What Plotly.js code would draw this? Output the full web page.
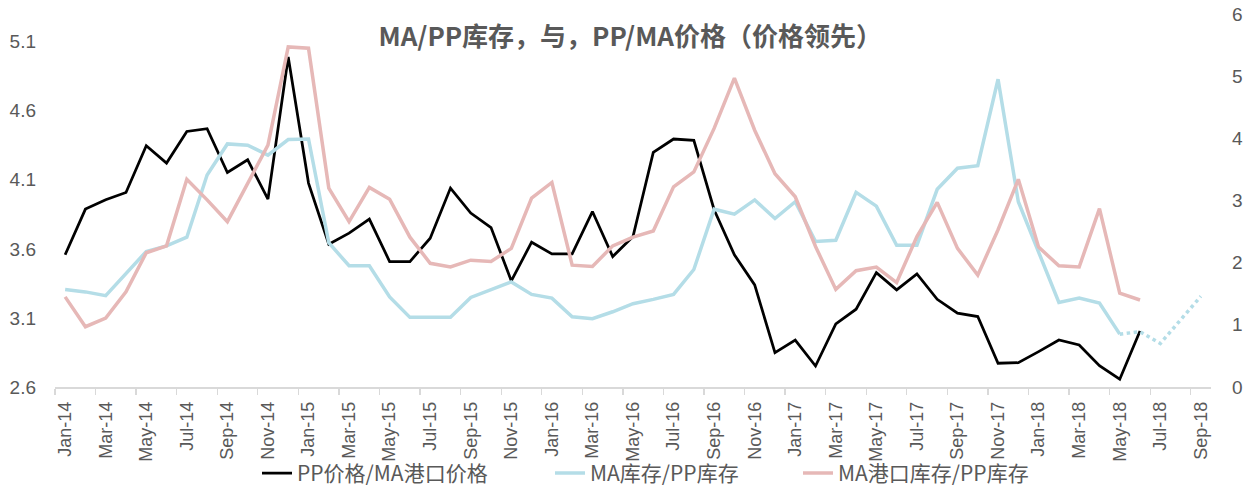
<!DOCTYPE html>
<html>
<head>
<meta charset="utf-8">
<script src="https://cdn.plot.ly/plotly-3.0.1.min.js"></script>
<style>html,body{margin:0;padding:0;background:#fff;}#chart{width:1248px;height:486px;}</style>
</head>
<body>
<div id="chart"></div>
<script>
// Category labels (monthly, Jan-14 .. Sep-18)
const months = [
  'Jan-14','Feb-14','Mar-14','Apr-14','May-14','Jun-14','Jul-14','Aug-14','Sep-14','Oct-14','Nov-14','Dec-14',
  'Jan-15','Feb-15','Mar-15','Apr-15','May-15','Jun-15','Jul-15','Aug-15','Sep-15','Oct-15','Nov-15','Dec-15',
  'Jan-16','Feb-16','Mar-16','Apr-16','May-16','Jun-16','Jul-16','Aug-16','Sep-16','Oct-16','Nov-16','Dec-16',
  'Jan-17','Feb-17','Mar-17','Apr-17','May-17','Jun-17','Jul-17','Aug-17','Sep-17','Oct-17','Nov-17','Dec-17',
  'Jan-18','Feb-18','Mar-18','Apr-18','May-18','Jun-18','Jul-18','Aug-18','Sep-18'
];

// PP价格/MA港口价格 (left axis), Jan-14 .. Jun-18
const ppMaPrice = [3.557,3.888,3.955,4.008,4.346,4.221,4.45,4.47,4.153,4.245,3.96,4.989,
  4.076,3.634,3.714,3.815,3.508,3.508,3.677,4.04,3.859,3.754,3.368,3.648,
  3.564,3.564,3.87,3.544,3.689,4.298,4.395,4.385,3.883,3.557,3.339,2.849,
  2.94,2.752,3.057,3.163,3.428,3.303,3.419,3.235,3.134,3.11,2.772,2.776,
  2.856,2.94,2.904,2.754,2.656,3.006];

// MA库存/PP库存 (right axis), Jan-14 .. May-18
const maPpStock = [1.57,1.53,1.47,1.82,2.18,2.27,2.41,3.41,3.91,3.89,3.73,3.98,
  3.99,2.32,1.95,1.95,1.45,1.12,1.12,1.12,1.44,1.57,1.69,1.49,
  1.43,1.13,1.10,1.21,1.34,1.41,1.49,1.89,2.86,2.78,3.01,2.71,
  2.98,2.34,2.36,3.13,2.91,2.28,2.28,3.18,3.52,3.56,4.95,2.98,
  2.18,1.36,1.43,1.35,0.85];

// MA库存/PP库存 projection (dotted), May-18 .. Sep-18
const maPpStockProj = [0.85,0.89,0.70,1.08,1.46];

// MA港口库存/PP库存 (right axis), Jan-14 .. Jun-18
const maPortPpStock = [1.45,0.97,1.11,1.53,2.16,2.27,3.34,3.01,2.66,3.28,3.89,5.47,
  5.45,3.20,2.66,3.21,3.02,2.41,1.99,1.93,2.04,2.02,2.23,3.04,
  3.29,1.96,1.94,2.27,2.41,2.51,3.22,3.46,4.16,4.97,4.13,3.43,
  3.06,2.26,1.57,1.87,1.93,1.68,2.42,2.97,2.23,1.80,2.53,3.34,
  2.25,1.95,1.93,2.87,1.51,1.40];

const leftTicks = [2.6,3.1,3.6,4.1,4.6,5.1];
const leftTickText = ['2.6','3.1','3.6','4.1','4.6','5.1'];
const rightTicks = [0,1,2,3,4,5,6];

const names = ['PP价格/MA港口价格','MA库存/PP库存','MA港口库存/PP库存'];
const colors = ['#000000','#b4dde7','#e6b8b7'];

const traces = [
  {x: months.slice(0, ppMaPrice.length), y: ppMaPrice, name: names[0], type:'scatter', mode:'lines',
   line:{color:colors[0], width:2.75}, yaxis:'y', legend:'legend'},
  {x: months.slice(0, maPpStock.length), y: maPpStock, name: names[1], type:'scatter', mode:'lines',
   line:{color:colors[1], width:3.5}, yaxis:'y2', legend:'legend2'},
  {x: months.slice(0, maPortPpStock.length), y: maPortPpStock, name: names[2], type:'scatter', mode:'lines',
   line:{color:colors[2], width:3.5}, yaxis:'y2', legend:'legend3'},
  {x: months.slice(maPpStock.length - 1, maPpStock.length - 1 + maPpStockProj.length), y: maPpStockProj,
   name: names[1], type:'scatter', mode:'lines', showlegend:false,
   line:{color:colors[1], width:3.5, dash:'dot'}, yaxis:'y2'}
];

const legendBase = {orientation:'h', xref:'container', yref:'container', y:0.026, yanchor:'middle',
  xanchor:'left', bgcolor:'rgba(0,0,0,0)', font:{family:'Noto Sans CJK SC, sans-serif', size:21, color:'#595959'}};

const layout = {
  width:1248, height:486,
  margin:{l:55, r:37, t:14, b:99, pad:0},
  paper_bgcolor:'#ffffff', plot_bgcolor:'#ffffff',
  font:{family:'Liberation Sans, Noto Sans CJK SC, sans-serif', color:'#595959'},
  title:{text:'<b>MA/PP库存，与，PP/MA价格（价格领先）</b>',
    font:{family:'Noto Sans CJK SC, sans-serif', size:26, color:'#595959'},
    x:0.505, xanchor:'center', xref:'container', y:1-37/486, yref:'container', yanchor:'middle'},
  xaxis:{type:'category', categoryorder:'array', categoryarray:months, range:[-0.5, months.length-0.5],
    tickmode:'linear', tick0:0, dtick:2, tickson:'boundaries', tickangle:-90,
    ticks:'outside', ticklen:6, tickcolor:'#d9d9d9', tickwidth:1.3,
    showline:true, linecolor:'#d9d9d9', linewidth:1.5, showgrid:false, zeroline:false,
    tickfont:{family:'Liberation Sans, sans-serif', size:18, color:'#595959'}, ticklabelstandoff:6},
  yaxis:{range:[2.6,5.3], tickmode:'array', tickvals:leftTicks, ticktext:leftTickText,
    showgrid:false, zeroline:false, showline:false, ticks:'',
    tickfont:{family:'Liberation Sans, sans-serif', size:19, color:'#595959'}, ticklabelstandoff:18},
  yaxis2:{overlaying:'y', side:'right', range:[0,6], tickmode:'array', tickvals:rightTicks,
    showgrid:false, zeroline:false, showline:false, ticks:'',
    tickfont:{family:'Liberation Sans, sans-serif', size:19, color:'#595959'}, ticklabelstandoff:20},
  showlegend:true,
  legend:Object.assign({}, legendBase, {x:257/1248}),
  legend2:Object.assign({}, legendBase, {x:550/1248}),
  legend3:Object.assign({}, legendBase, {x:798/1248})
};

Plotly.newPlot('chart', traces, layout, {displayModeBar:false, staticPlot:true});
</script>
</body>
</html>
